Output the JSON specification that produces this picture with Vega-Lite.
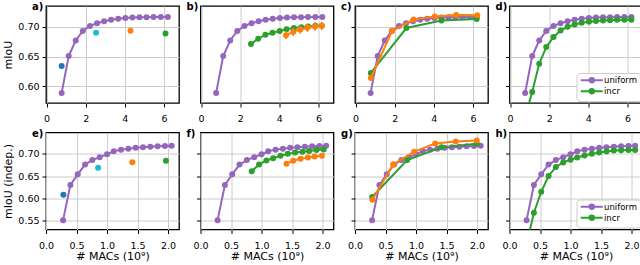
{
  "$schema": "https://vega.github.io/schema/vega-lite/v6.json",
  "padding": {"left": 2, "top": 1, "right": 0, "bottom": 0},
  "background": "white",
  "config": {
    "font": "DejaVu Sans",
    "view": {"stroke": "black", "strokeWidth": 1.3},
    "axis": {"grid": true, "gridColor": "#cccccc", "gridWidth": 1, "domain": false, "tickColor": "black", "tickSize": 4, "tickWidth": 1, "labelFont": "DejaVu Sans", "labelFontSize": 9.5, "labelColor": "black", "titleFont": "DejaVu Sans", "titleFontSize": 11, "titleFontWeight": "normal", "titleColor": "black", "labelFlush": false},
    "axisX": {"labelPadding": 6.5, "titlePadding": 1},
    "axisY": {"labelPadding": 3, "titlePadding": 4},
    "legend": {"rowPadding": -5, "padding": 3, "labelFontSize": 8.5, "symbolSize": 16},
    "title": {"anchor": "start", "frame": "group", "dx": -14, "fontSize": 10, "fontWeight": "bold", "font": "DejaVu Sans", "color": "black", "baseline": "alphabetic", "offset": -6}
  },
  "data": {"values": [
    {"p":"top","s":"uniform","x":0.77,"y":0.589},{"p":"top","s":"uniform","x":1.13,"y":0.651},{"p":"top","s":"uniform","x":1.49,"y":0.677},{"p":"top","s":"uniform","x":1.85,"y":0.693},{"p":"top","s":"uniform","x":2.22,"y":0.7015},{"p":"top","s":"uniform","x":2.58,"y":0.706},{"p":"top","s":"uniform","x":2.94,"y":0.7095},{"p":"top","s":"uniform","x":3.30,"y":0.712},{"p":"top","s":"uniform","x":3.66,"y":0.7135},{"p":"top","s":"uniform","x":4.03,"y":0.7148},{"p":"top","s":"uniform","x":4.39,"y":0.7155},{"p":"top","s":"uniform","x":4.75,"y":0.716},{"p":"top","s":"uniform","x":5.11,"y":0.7163},{"p":"top","s":"uniform","x":5.47,"y":0.7165},{"p":"top","s":"uniform","x":5.84,"y":0.7165},{"p":"top","s":"uniform","x":6.20,"y":0.7165},
    {"p":"bottom","s":"uniform","x":0.28,"y":0.551},{"p":"bottom","s":"uniform","x":0.40,"y":0.630},{"p":"bottom","s":"uniform","x":0.52,"y":0.654},{"p":"bottom","s":"uniform","x":0.64,"y":0.676},{"p":"bottom","s":"uniform","x":0.76,"y":0.686},{"p":"bottom","s":"uniform","x":0.88,"y":0.6926},{"p":"bottom","s":"uniform","x":1.00,"y":0.699},{"p":"bottom","s":"uniform","x":1.11,"y":0.7057},{"p":"bottom","s":"uniform","x":1.23,"y":0.7095},{"p":"bottom","s":"uniform","x":1.35,"y":0.7117},{"p":"bottom","s":"uniform","x":1.47,"y":0.7135},{"p":"bottom","s":"uniform","x":1.59,"y":0.715},{"p":"bottom","s":"uniform","x":1.71,"y":0.716},{"p":"bottom","s":"uniform","x":1.83,"y":0.717},{"p":"bottom","s":"uniform","x":1.95,"y":0.7175},{"p":"bottom","s":"uniform","x":2.06,"y":0.718},
    {"p":"a","s":"p1","x":0.77,"y":0.634},{"p":"a","s":"p2","x":2.53,"y":0.690},{"p":"a","s":"p3","x":4.29,"y":0.6933},{"p":"a","s":"p4","x":6.08,"y":0.6887},
    {"p":"e","s":"p1","x":0.285,"y":0.608},{"p":"e","s":"p2","x":0.854,"y":0.669},{"p":"e","s":"p3","x":1.415,"y":0.681},{"p":"e","s":"p4","x":1.966,"y":0.6845},
    {"p":"b","s":"incr","x":2.55,"y":0.671},{"p":"b","s":"incr","x":2.92,"y":0.680},{"p":"b","s":"incr","x":3.29,"y":0.6865},{"p":"b","s":"incr","x":3.65,"y":0.690},{"p":"b","s":"incr","x":4.02,"y":0.693},{"p":"b","s":"incr","x":4.37,"y":0.696},{"p":"b","s":"incr","x":4.74,"y":0.698},{"p":"b","s":"incr","x":5.12,"y":0.6995},{"p":"b","s":"incr","x":5.47,"y":0.7005},{"p":"b","s":"incr","x":5.84,"y":0.7017},{"p":"b","s":"incr","x":6.17,"y":0.702},
    {"p":"b","s":"mixed","x":4.34,"y":0.686,"lo":0.679,"hi":0.693},{"p":"b","s":"mixed","x":4.71,"y":0.6915,"lo":0.6845,"hi":0.6985},{"p":"b","s":"mixed","x":5.07,"y":0.6955,"lo":0.6885,"hi":0.7025},{"p":"b","s":"mixed","x":5.44,"y":0.6983,"lo":0.6913,"hi":0.7053},{"p":"b","s":"mixed","x":5.82,"y":0.7005,"lo":0.6935,"hi":0.7075},{"p":"b","s":"mixed","x":6.17,"y":0.7017,"lo":0.6947,"hi":0.7087},
    {"p":"c","s":"incr","x":0.78,"y":0.6226},{"p":"c","s":"incr","x":2.60,"y":0.698},{"p":"c","s":"incr","x":4.39,"y":0.7107},{"p":"c","s":"incr","x":6.19,"y":0.713},
    {"p":"c","s":"mixed","x":0.78,"y":0.614},{"p":"c","s":"mixed","x":1.87,"y":0.6933},{"p":"c","s":"mixed","x":2.96,"y":0.7123},{"p":"c","s":"mixed","x":4.05,"y":0.7174},{"p":"c","s":"mixed","x":5.14,"y":0.720},{"p":"c","s":"mixed","x":6.22,"y":0.7193},
    {"p":"d","s":"incr","x":0.77,"y":0.548},{"p":"d","s":"incr","x":1.13,"y":0.5906},{"p":"d","s":"incr","x":1.49,"y":0.638},{"p":"d","s":"incr","x":1.85,"y":0.666},{"p":"d","s":"incr","x":2.22,"y":0.683},{"p":"d","s":"incr","x":2.58,"y":0.6938},{"p":"d","s":"incr","x":2.94,"y":0.700},{"p":"d","s":"incr","x":3.30,"y":0.704},{"p":"d","s":"incr","x":3.66,"y":0.7067},{"p":"d","s":"incr","x":4.03,"y":0.7084},{"p":"d","s":"incr","x":4.39,"y":0.7096},{"p":"d","s":"incr","x":4.75,"y":0.7107},{"p":"d","s":"incr","x":5.11,"y":0.7112},{"p":"d","s":"incr","x":5.47,"y":0.7118},{"p":"d","s":"incr","x":5.84,"y":0.7118},{"p":"d","s":"incr","x":6.20,"y":0.7118},
    {"p":"f","s":"incr","x":0.84,"y":0.661},{"p":"f","s":"incr","x":0.96,"y":0.676},{"p":"f","s":"incr","x":1.08,"y":0.6852},{"p":"f","s":"incr","x":1.19,"y":0.690},{"p":"f","s":"incr","x":1.31,"y":0.6955},{"p":"f","s":"incr","x":1.43,"y":0.700},{"p":"f","s":"incr","x":1.55,"y":0.703},{"p":"f","s":"incr","x":1.67,"y":0.705},{"p":"f","s":"incr","x":1.78,"y":0.7066},{"p":"f","s":"incr","x":1.90,"y":0.7088},{"p":"f","s":"incr","x":2.02,"y":0.710},
    {"p":"f","s":"mixed","x":1.41,"y":0.678},{"p":"f","s":"mixed","x":1.52,"y":0.6845},{"p":"f","s":"mixed","x":1.64,"y":0.689},{"p":"f","s":"mixed","x":1.76,"y":0.692},{"p":"f","s":"mixed","x":1.87,"y":0.694},{"p":"f","s":"mixed","x":1.99,"y":0.6955},
    {"p":"g","s":"incr","x":0.28,"y":0.603},{"p":"g","s":"incr","x":0.855,"y":0.686},{"p":"g","s":"incr","x":1.415,"y":0.7146},{"p":"g","s":"incr","x":1.995,"y":0.7227},
    {"p":"g","s":"mixed","x":0.285,"y":0.597},{"p":"g","s":"mixed","x":0.625,"y":0.676},{"p":"g","s":"mixed","x":0.97,"y":0.705},{"p":"g","s":"mixed","x":1.315,"y":0.7234},{"p":"g","s":"mixed","x":1.65,"y":0.7278},{"p":"g","s":"mixed","x":1.995,"y":0.730},
    {"p":"h","s":"incr","x":0.28,"y":0.497},{"p":"h","s":"incr","x":0.40,"y":0.5678},{"p":"h","s":"incr","x":0.52,"y":0.6148},{"p":"h","s":"incr","x":0.64,"y":0.650},{"p":"h","s":"incr","x":0.76,"y":0.6705},{"p":"h","s":"incr","x":0.88,"y":0.6808},{"p":"h","s":"incr","x":1.00,"y":0.6868},{"p":"h","s":"incr","x":1.11,"y":0.6918},{"p":"h","s":"incr","x":1.23,"y":0.6963},{"p":"h","s":"incr","x":1.35,"y":0.700},{"p":"h","s":"incr","x":1.47,"y":0.7029},{"p":"h","s":"incr","x":1.59,"y":0.7051},{"p":"h","s":"incr","x":1.71,"y":0.7073},{"p":"h","s":"incr","x":1.83,"y":0.708},{"p":"h","s":"incr","x":1.95,"y":0.7088},{"p":"h","s":"incr","x":2.06,"y":0.7088}
  ]},
  "resolve": {"scale": {"color": "independent", "x": "independent", "y": "independent"}, "legend": {"color": "independent"}},
  "spacing": 3.5,
  "vconcat": [
    {
      "spacing": 5.5,
      "resolve": {"scale": {"color": "independent", "x": "independent", "y": "independent"}, "legend": {"color": "independent"}},
      "hconcat": [
        {
          "width": 133, "height": 97, "title": "a)",
          "transform": [{"filter": "datum.p === 'top' || datum.p === 'a'"}],
          "encoding": {
            "x": {"field": "x", "type": "quantitative", "scale": {"domain": [-0.03, 6.77], "nice": false, "zero": false}, "axis": {"values": [0, 2, 4, 6], "format": "d", "title": null}},
            "y": {"field": "y", "type": "quantitative", "scale": {"domain": [0.572, 0.735], "nice": false, "zero": false}, "axis": {"values": [0.6, 0.65, 0.7], "format": ".2f", "title": "mIoU"}},
            "color": {"field": "s", "type": "nominal", "scale": {"domain": ["uniform", "incr", "mixed", "p1", "p2", "p3", "p4"], "range": ["#9467bd", "#2ca02c", "#ff7f0e", "#1f77b4", "#17becf", "#ff7f0e", "#2ca02c"]}, "legend": null}
          },
          "layer": [
            {"transform": [{"filter": "datum.s === 'uniform'"}], "mark": {"type": "line", "strokeWidth": 2, "clip": true}},
            {"mark": {"type": "point", "filled": true, "size": 36, "opacity": 1, "clip": true}}
          ]
        },
        {
          "width": 133, "height": 97, "title": "b)",
          "transform": [{"filter": "datum.p === 'top' || datum.p === 'b'"}],
          "encoding": {
            "x": {"field": "x", "type": "quantitative", "scale": {"domain": [-0.03, 6.77], "nice": false, "zero": false}, "axis": {"values": [0, 2, 4, 6], "format": "d", "title": null}},
            "y": {"field": "y", "type": "quantitative", "scale": {"domain": [0.572, 0.735], "nice": false, "zero": false}, "axis": {"values": [0.6, 0.65, 0.7], "labels": false, "title": null}},
            "color": {"field": "s", "type": "nominal", "scale": {"domain": ["uniform", "incr", "mixed", "p1", "p2", "p3", "p4"], "range": ["#9467bd", "#2ca02c", "#ff7f0e", "#1f77b4", "#17becf", "#ff7f0e", "#2ca02c"]}, "legend": null}
          },
          "layer": [
            {"transform": [{"filter": "datum.s === 'uniform'"}], "mark": {"type": "line", "strokeWidth": 2, "clip": true}},
            {"transform": [{"filter": "datum.s === 'uniform'"}], "mark": {"type": "point", "filled": true, "size": 36, "opacity": 1, "clip": true}},
            {"transform": [{"filter": "datum.s === 'incr'"}], "mark": {"type": "line", "strokeWidth": 2, "clip": true}},
            {"transform": [{"filter": "datum.s === 'incr'"}], "mark": {"type": "point", "filled": true, "size": 36, "opacity": 1, "clip": true}},
            {"transform": [{"filter": "datum.s === 'mixed'"}], "mark": {"type": "rule", "strokeWidth": 1.5, "clip": true}, "encoding": {"y": {"field": "lo", "type": "quantitative", "axis": null}, "y2": {"field": "hi"}}},
            {"transform": [{"filter": "datum.s === 'mixed'"}], "mark": {"type": "line", "strokeWidth": 2, "clip": true}},
            {"transform": [{"filter": "datum.s === 'mixed'"}], "mark": {"type": "point", "filled": true, "size": 36, "opacity": 1, "clip": true}}
          ]
        },
        {
          "width": 133, "height": 97, "title": "c)",
          "transform": [{"filter": "datum.p === 'top' || datum.p === 'c'"}],
          "encoding": {
            "x": {"field": "x", "type": "quantitative", "scale": {"domain": [-0.03, 6.77], "nice": false, "zero": false}, "axis": {"values": [0, 2, 4, 6], "format": "d", "title": null}},
            "y": {"field": "y", "type": "quantitative", "scale": {"domain": [0.572, 0.735], "nice": false, "zero": false}, "axis": {"values": [0.6, 0.65, 0.7], "labels": false, "title": null}},
            "color": {"field": "s", "type": "nominal", "scale": {"domain": ["uniform", "incr", "mixed", "p1", "p2", "p3", "p4"], "range": ["#9467bd", "#2ca02c", "#ff7f0e", "#1f77b4", "#17becf", "#ff7f0e", "#2ca02c"]}, "legend": null}
          },
          "layer": [
            {"transform": [{"filter": "datum.s === 'uniform'"}], "mark": {"type": "line", "strokeWidth": 2, "clip": true}},
            {"transform": [{"filter": "datum.s === 'uniform'"}], "mark": {"type": "point", "filled": true, "size": 36, "opacity": 1, "clip": true}},
            {"transform": [{"filter": "datum.s === 'incr'"}], "mark": {"type": "line", "strokeWidth": 2, "clip": true}},
            {"transform": [{"filter": "datum.s === 'incr'"}], "mark": {"type": "point", "filled": true, "size": 36, "opacity": 1, "clip": true}},
            {"transform": [{"filter": "datum.s === 'mixed'"}], "mark": {"type": "line", "strokeWidth": 2, "clip": true}},
            {"transform": [{"filter": "datum.s === 'mixed'"}], "mark": {"type": "point", "filled": true, "size": 36, "opacity": 1, "clip": true}}
          ]
        },
        {
          "width": 133, "height": 97, "title": "d)",
          "transform": [{"filter": "datum.p === 'top' || datum.p === 'd'"}],
          "encoding": {
            "x": {"field": "x", "type": "quantitative", "scale": {"domain": [-0.03, 6.77], "nice": false, "zero": false}, "axis": {"values": [0, 2, 4, 6], "format": "d", "title": null}},
            "y": {"field": "y", "type": "quantitative", "scale": {"domain": [0.572, 0.735], "nice": false, "zero": false}, "axis": {"values": [0.6, 0.65, 0.7], "labels": false, "title": null}},
            "color": {"field": "s", "type": "nominal", "scale": {"domain": ["uniform", "incr", "mixed", "p1", "p2", "p3", "p4"], "range": ["#9467bd", "#2ca02c", "#ff7f0e", "#1f77b4", "#17becf", "#ff7f0e", "#2ca02c"]},
              "legend": {"values": ["uniform", "incr"], "orient": "bottom-right", "offset": 2, "title": null, "symbolType": "M-1.5,0L9.5,0M5.15,0A1.15,1.15,0,1,1,2.85,0A1.15,1.15,0,1,1,5.15,0Z", "symbolSize": 16, "symbolStrokeWidth": 2, "labelFontSize": 8.5, "labelFont": "DejaVu Sans", "labelColor": "black", "labelOffset": 16, "padding": 3, "rowPadding": -5, "fillColor": "white", "strokeColor": "#cccccc", "cornerRadius": 3}}
          },
          "layer": [
            {"transform": [{"filter": "datum.s === 'uniform'"}], "mark": {"type": "line", "strokeWidth": 2, "clip": true}},
            {"transform": [{"filter": "datum.s === 'uniform'"}], "mark": {"type": "point", "filled": true, "size": 36, "opacity": 1, "clip": true}},
            {"transform": [{"filter": "datum.s === 'incr'"}], "mark": {"type": "line", "strokeWidth": 2, "clip": true}},
            {"transform": [{"filter": "datum.s === 'incr'"}], "mark": {"type": "point", "filled": true, "size": 36, "opacity": 1, "clip": true}}
          ]
        }
      ]
    },
    {
      "spacing": 5.5,
      "resolve": {"scale": {"color": "independent", "x": "independent", "y": "independent"}, "legend": {"color": "independent"}},
      "hconcat": [
        {
          "width": 133, "height": 97, "title": "e)",
          "transform": [{"filter": "datum.p === 'bottom' || datum.p === 'e'"}],
          "encoding": {
            "x": {"field": "x", "type": "quantitative", "scale": {"domain": [0, 2.18], "nice": false, "zero": false}, "axis": {"values": [0, 0.5, 1, 1.5, 2], "format": ".1f", "title": "# MACs (10⁹)"}},
            "y": {"field": "y", "type": "quantitative", "scale": {"domain": [0.530, 0.748], "nice": false, "zero": false}, "axis": {"values": [0.55, 0.6, 0.65, 0.7], "format": ".2f", "title": "mIoU (indep.)"}},
            "color": {"field": "s", "type": "nominal", "scale": {"domain": ["uniform", "incr", "mixed", "p1", "p2", "p3", "p4"], "range": ["#9467bd", "#2ca02c", "#ff7f0e", "#1f77b4", "#17becf", "#ff7f0e", "#2ca02c"]}, "legend": null}
          },
          "layer": [
            {"transform": [{"filter": "datum.s === 'uniform'"}], "mark": {"type": "line", "strokeWidth": 2, "clip": true}},
            {"mark": {"type": "point", "filled": true, "size": 36, "opacity": 1, "clip": true}}
          ]
        },
        {
          "width": 133, "height": 97, "title": "f)",
          "transform": [{"filter": "datum.p === 'bottom' || datum.p === 'f'"}],
          "encoding": {
            "x": {"field": "x", "type": "quantitative", "scale": {"domain": [0, 2.18], "nice": false, "zero": false}, "axis": {"values": [0, 0.5, 1, 1.5, 2], "format": ".1f", "title": "# MACs (10⁹)"}},
            "y": {"field": "y", "type": "quantitative", "scale": {"domain": [0.530, 0.748], "nice": false, "zero": false}, "axis": {"values": [0.55, 0.6, 0.65, 0.7], "labels": false, "title": null}},
            "color": {"field": "s", "type": "nominal", "scale": {"domain": ["uniform", "incr", "mixed", "p1", "p2", "p3", "p4"], "range": ["#9467bd", "#2ca02c", "#ff7f0e", "#1f77b4", "#17becf", "#ff7f0e", "#2ca02c"]}, "legend": null}
          },
          "layer": [
            {"transform": [{"filter": "datum.s === 'uniform'"}], "mark": {"type": "line", "strokeWidth": 2, "clip": true}},
            {"transform": [{"filter": "datum.s === 'uniform'"}], "mark": {"type": "point", "filled": true, "size": 36, "opacity": 1, "clip": true}},
            {"transform": [{"filter": "datum.s === 'incr'"}], "mark": {"type": "line", "strokeWidth": 2, "clip": true}},
            {"transform": [{"filter": "datum.s === 'incr'"}], "mark": {"type": "point", "filled": true, "size": 36, "opacity": 1, "clip": true}},
            {"transform": [{"filter": "datum.s === 'mixed'"}], "mark": {"type": "line", "strokeWidth": 2, "clip": true}},
            {"transform": [{"filter": "datum.s === 'mixed'"}], "mark": {"type": "point", "filled": true, "size": 36, "opacity": 1, "clip": true}}
          ]
        },
        {
          "width": 133, "height": 97, "title": "g)",
          "transform": [{"filter": "datum.p === 'bottom' || datum.p === 'g'"}],
          "encoding": {
            "x": {"field": "x", "type": "quantitative", "scale": {"domain": [0, 2.18], "nice": false, "zero": false}, "axis": {"values": [0, 0.5, 1, 1.5, 2], "format": ".1f", "title": "# MACs (10⁹)"}},
            "y": {"field": "y", "type": "quantitative", "scale": {"domain": [0.530, 0.748], "nice": false, "zero": false}, "axis": {"values": [0.55, 0.6, 0.65, 0.7], "labels": false, "title": null}},
            "color": {"field": "s", "type": "nominal", "scale": {"domain": ["uniform", "incr", "mixed", "p1", "p2", "p3", "p4"], "range": ["#9467bd", "#2ca02c", "#ff7f0e", "#1f77b4", "#17becf", "#ff7f0e", "#2ca02c"]}, "legend": null}
          },
          "layer": [
            {"transform": [{"filter": "datum.s === 'uniform'"}], "mark": {"type": "line", "strokeWidth": 2, "clip": true}},
            {"transform": [{"filter": "datum.s === 'uniform'"}], "mark": {"type": "point", "filled": true, "size": 36, "opacity": 1, "clip": true}},
            {"transform": [{"filter": "datum.s === 'incr'"}], "mark": {"type": "line", "strokeWidth": 2, "clip": true}},
            {"transform": [{"filter": "datum.s === 'incr'"}], "mark": {"type": "point", "filled": true, "size": 36, "opacity": 1, "clip": true}},
            {"transform": [{"filter": "datum.s === 'mixed'"}], "mark": {"type": "line", "strokeWidth": 2, "clip": true}},
            {"transform": [{"filter": "datum.s === 'mixed'"}], "mark": {"type": "point", "filled": true, "size": 36, "opacity": 1, "clip": true}}
          ]
        },
        {
          "width": 133, "height": 97, "title": "h)",
          "transform": [{"filter": "datum.p === 'bottom' || datum.p === 'h'"}],
          "encoding": {
            "x": {"field": "x", "type": "quantitative", "scale": {"domain": [0, 2.18], "nice": false, "zero": false}, "axis": {"values": [0, 0.5, 1, 1.5, 2], "format": ".1f", "title": "# MACs (10⁹)"}},
            "y": {"field": "y", "type": "quantitative", "scale": {"domain": [0.530, 0.748], "nice": false, "zero": false}, "axis": {"values": [0.55, 0.6, 0.65, 0.7], "labels": false, "title": null}},
            "color": {"field": "s", "type": "nominal", "scale": {"domain": ["uniform", "incr", "mixed", "p1", "p2", "p3", "p4"], "range": ["#9467bd", "#2ca02c", "#ff7f0e", "#1f77b4", "#17becf", "#ff7f0e", "#2ca02c"]},
              "legend": {"values": ["uniform", "incr"], "orient": "bottom-right", "offset": 2, "title": null, "symbolType": "M-1.5,0L9.5,0M5.15,0A1.15,1.15,0,1,1,2.85,0A1.15,1.15,0,1,1,5.15,0Z", "symbolSize": 16, "symbolStrokeWidth": 2, "labelFontSize": 8.5, "labelFont": "DejaVu Sans", "labelColor": "black", "labelOffset": 16, "padding": 3, "rowPadding": -5, "fillColor": "white", "strokeColor": "#cccccc", "cornerRadius": 3}}
          },
          "layer": [
            {"transform": [{"filter": "datum.s === 'uniform'"}], "mark": {"type": "line", "strokeWidth": 2, "clip": true}},
            {"transform": [{"filter": "datum.s === 'uniform'"}], "mark": {"type": "point", "filled": true, "size": 36, "opacity": 1, "clip": true}},
            {"transform": [{"filter": "datum.s === 'incr'"}], "mark": {"type": "line", "strokeWidth": 2, "clip": true}},
            {"transform": [{"filter": "datum.s === 'incr'"}], "mark": {"type": "point", "filled": true, "size": 36, "opacity": 1, "clip": true}}
          ]
        }
      ]
    }
  ]
}
